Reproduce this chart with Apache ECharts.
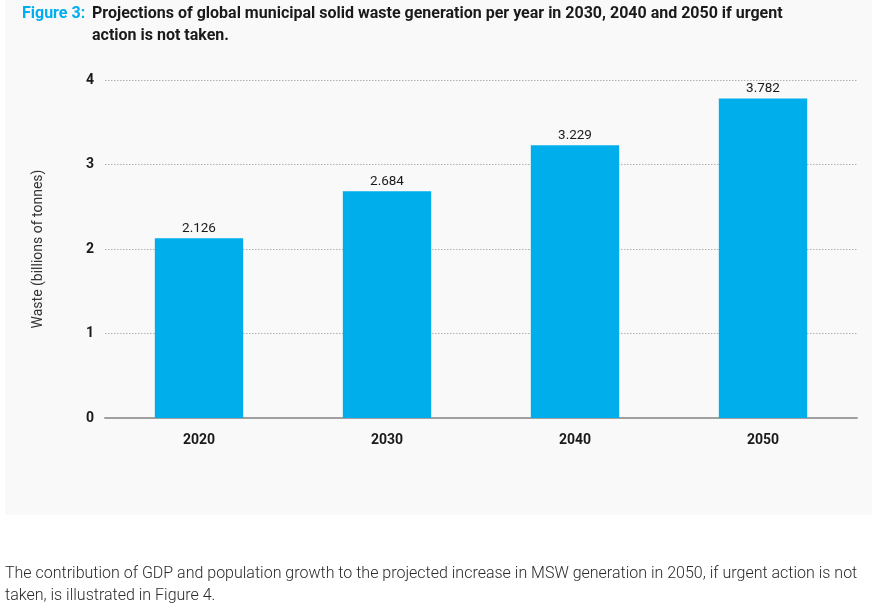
<!DOCTYPE html>
<html>
<head>
<meta charset="utf-8">
<script src="https://cdn.jsdelivr.net/npm/echarts@6/dist/echarts.min.js"></script>
<style>
  html, body { margin: 0; padding: 0; background: #ffffff; }
  #chart { width: 872px; height: 609px; }
</style>
</head>
<body>
<div id="chart"></div>
<script>
const categories = ['2020', '2030', '2040', '2050'];
const wasteValues = [2.126, 2.684, 3.229, 3.782];
const valueLabels = ['2.126', '2.684', '3.229', '3.782'];
const yTicks = [0, 1, 2, 3, 4];

const chart = echarts.init(document.getElementById('chart'), null, { renderer: 'canvas' });

const option = {
  backgroundColor: '#ffffff',
  animation: false,
  graphic: [
    { type: 'rect', z: -10, shape: { x: 5, y: 0, width: 867, height: 515 }, style: { fill: '#f9f9f9' }, silent: true },
    { type: 'text', left: 22, top: 6, style: { text: 'Figure 3:', fill: '#00aeef', font: "bold 16px Roboto" } },
    { type: 'text', left: 92, top: 6, style: { text: 'Projections of global municipal solid waste generation per year in 2030, 2040 and 2050 if urgent', fill: '#1a1a1a', font: "bold 16px Roboto" } },
    { type: 'text', left: 92, top: 28, style: { text: 'action is not taken.', fill: '#1a1a1a', font: "bold 16px Roboto" } },
    { type: 'text', left: 5, top: 563, style: { text: 'The contribution of GDP and population growth to the projected increase in MSW generation in 2050, if urgent action is not\ntaken, is illustrated in Figure 4.', fill: '#2a2a2a', font: "300 16px Roboto", lineHeight: 22 } }
  ],
  grid: { left: 105, right: 15, top: 80, bottom: 191, containLabel: false },
  xAxis: {
    type: 'category',
    data: categories,
    axisTick: { show: false },
    axisLine: { show: true, lineStyle: { color: '#a0a0a0', width: 2 } },
    axisLabel: { margin: 15, color: '#1a1a1a', fontFamily: 'Roboto', fontWeight: 'bold', fontSize: 14 }
  },
  yAxis: {
    type: 'value',
    min: 0, max: 4, interval: 1,
    name: 'Waste (billions of tonnes)',
    nameLocation: 'middle',
    nameGap: 60,
    nameTextStyle: { color: '#333333', fontFamily: 'Roboto', fontSize: 14 },
    axisLine: { show: false },
    axisTick: { show: false },
    axisLabel: { margin: 11, color: '#1a1a1a', fontFamily: 'Roboto', fontWeight: 'bold', fontSize: 14,
      formatter: v => yTicks.includes(v) ? String(v) : '' },
    splitLine: { show: true, lineStyle: { color: '#b0b0b0', type: [1.5, 1.5], width: 1 } }
  },
  series: [{
    type: 'bar',
    data: wasteValues,
    barWidth: '47%',
    itemStyle: { color: '#00aeeb' },
    label: {
      show: true, position: 'top', distance: 3,
      color: '#1a1a1a', fontFamily: 'Roboto', fontSize: 13.5,
      formatter: p => valueLabels[p.dataIndex]
    }
  }]
};
chart.setOption(option);
</script>
</body>
</html>
